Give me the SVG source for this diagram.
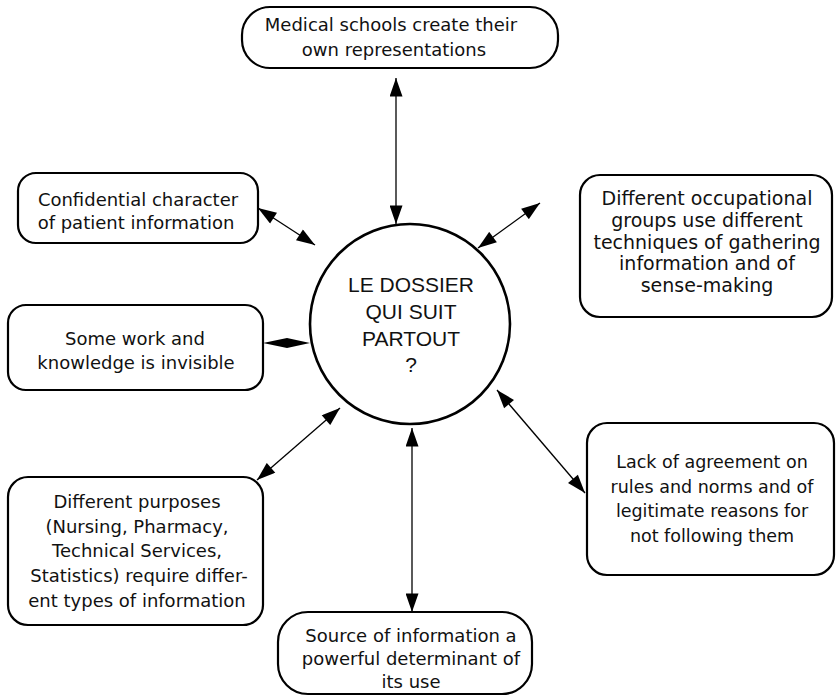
<svg xmlns="http://www.w3.org/2000/svg" width="836" height="696" viewBox="0 0 836 696">
<defs>
<style>
.box{fill:#fff;stroke:#000;stroke-width:2.2}
.hub{fill:#fff;stroke:#000;stroke-width:2.6}
.t{font-family:"DejaVu Sans","Liberation Sans",sans-serif;font-size:18px;fill:#111;text-anchor:middle}
.h{font-family:"Liberation Sans","DejaVu Sans",sans-serif;font-size:21px;fill:#111;text-anchor:middle}
.c{stroke:#000;stroke-width:1.3;fill:none;marker-start:url(#ah);marker-end:url(#ah)}
</style>
<marker id="ah" viewBox="0 0 20 14" refX="20" refY="7" markerWidth="20" markerHeight="13" orient="auto-start-reverse" markerUnits="userSpaceOnUse">
<path d="M0,0 L20,7 L0,14 Z" fill="#000"/>
</marker>
</defs>
<rect width="836" height="696" fill="#fff"/>
<g id="connectors">
<line class="c" x1="396" y1="78" x2="396" y2="224"/>
<line class="c" x1="258" y1="208" x2="315" y2="245"/>
<line class="c" x1="478" y1="248" x2="540" y2="203"/>
<polygon points="263,343 287,338 310,343 287,348" fill="#000"/>
<line class="c" x1="257" y1="480" x2="340" y2="408"/>
<line class="c" x1="412" y1="428" x2="412" y2="612"/>
<line class="c" x1="497" y1="390" x2="585" y2="493"/>
</g>
<g id="hub">
<circle class="hub" cx="410" cy="324" r="100"/>
<text class="h" x="411" y="292">LE DOSSIER</text>
<text class="h" x="411" y="319">QUI SUIT</text>
<text class="h" x="411" y="346">PARTOUT</text>
<text class="h" x="411" y="372">?</text>
</g>
<g id="medical">
<rect class="box" x="242" y="7" width="316" height="61" rx="28"/>
<text class="t" x="391" y="31">Medical schools create their</text>
<text class="t" x="394" y="56">own representations</text>
</g>
<g id="confidential">
<rect class="box" x="18" y="173" width="240" height="70" rx="18"/>
<text class="t" x="138" y="206">Confidential character</text>
<text class="t" x="136" y="229">of patient information</text>
</g>
<g id="invisible">
<rect class="box" x="8" y="305" width="255" height="85" rx="18"/>
<text class="t" x="135" y="345">Some work and</text>
<text class="t" x="136" y="369">knowledge is invisible</text>
</g>
<g id="occupational">
<rect class="box" x="580" y="175" width="252" height="142" rx="20"/>
<text class="t" style="font-size:19px" x="707" y="205">Different occupational</text>
<text class="t" style="font-size:19px" x="707" y="227">groups use different</text>
<text class="t" style="font-size:19px" x="707" y="249">techniques of gathering</text>
<text class="t" style="font-size:19px" x="707" y="270">information and of</text>
<text class="t" style="font-size:19px" x="707" y="292">sense-making</text>
</g>
<g id="agreement">
<rect class="box" x="587" y="423" width="247" height="152" rx="20"/>
<text class="t" style="font-size:17.5px" x="712" y="468">Lack of agreement on</text>
<text class="t" style="font-size:17.5px" x="712" y="493">rules and norms and of</text>
<text class="t" style="font-size:17.5px" x="712" y="517">legitimate reasons for</text>
<text class="t" style="font-size:17.5px" x="712" y="542">not following them</text>
</g>
<g id="purposes">
<rect class="box" x="8" y="477" width="255" height="148" rx="20"/>
<text class="t" x="137" y="508">Different purposes</text>
<text class="t" x="137" y="533">(Nursing, Pharmacy,</text>
<text class="t" x="137" y="557">Technical Services,</text>
<text class="t" x="139" y="582">Statistics) require differ-</text>
<text class="t" x="137" y="607">ent types of information</text>
</g>
<g id="source">
<rect class="box" x="278" y="612" width="254" height="82" rx="30"/>
<text class="t" x="411" y="642">Source of information a</text>
<text class="t" x="411" y="665">powerful determinant of</text>
<text class="t" x="411" y="688">its use</text>
</g>
</svg>
